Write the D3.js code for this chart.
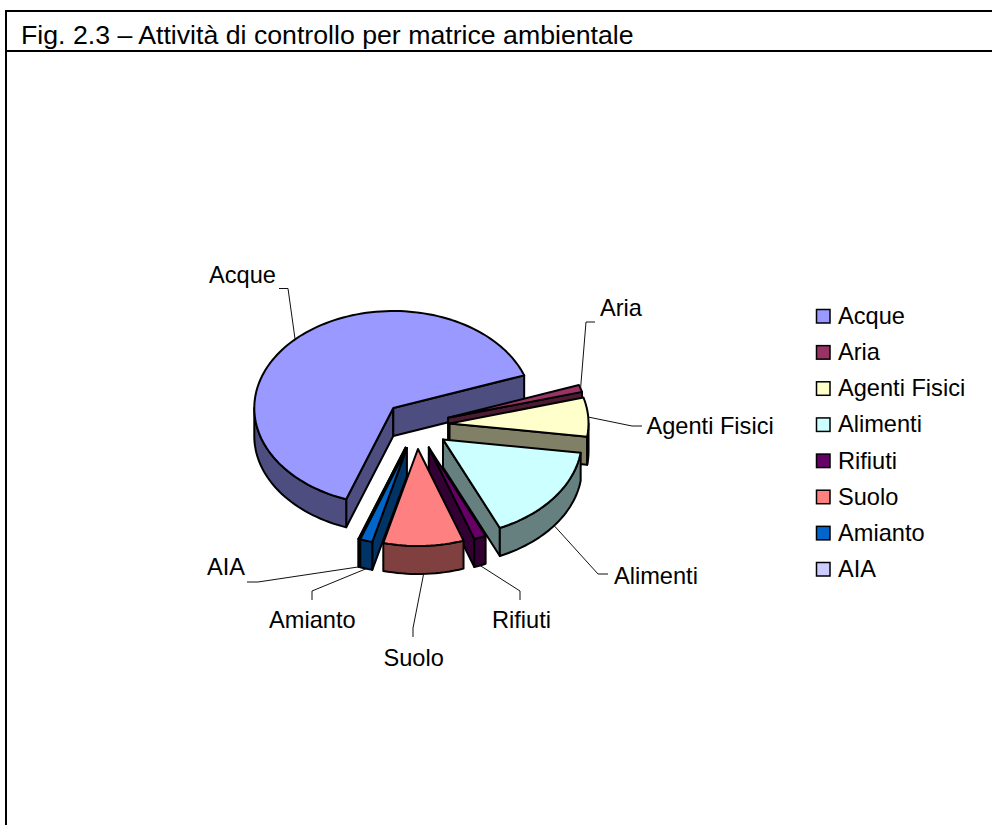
<!DOCTYPE html>
<html lang="en">
<head>
    <meta charset="UTF-8">
    <title>Fig. 2.3</title>
</head>

<style>

html, body {
    margin: 0;
    padding: 0;
    background: #fff;
    overflow: hidden;
}

svg {
    display: block;
}

text {
    font-family: 'Liberation Sans', Arial, sans-serif;
    fill: #000;
}

.leader {
    fill: none;
    stroke: #111;
    stroke-width: 1;
}

.face {
    stroke: #000;
    stroke-width: 2;
    stroke-linejoin: round;
}

</style>

<svg height="825" width="992"></svg>

<script src="https://d3js.org/d3.v7.min.js"></script>

<script>

    var titleText = "Fig. 2.3 \u2013 Attivit\u00e0 di controllo per matrice ambientale";

    var categories = ["Acque", "Aria", "Agenti Fisici", "Alimenti", "Rifiuti", "Suolo", "Amianto", "AIA"];
    var shares = [64.06, 1.17, 6.5, 16.1, 1.39, 9.33, 1.44, 0.05];
    var colors = ["#9999ff", "#993366", "#ffffcc", "#ccffff", "#660066", "#ff8080", "#0066cc", "#ccccff"];

    // where each data label sits, and the elbow of its leader line
    var labelSpots = [
        {x: 209, y: 283, elbow: [[288, 288.5], [279, 288.5]]},
        {x: 600, y: 316, elbow: [[586, 322], [595, 322]]},
        {x: 646.5, y: 434, elbow: [[632, 426], [642, 426]]},
        {x: 614, y: 583.5, elbow: [[598, 574], [608, 574]]},
        {x: 492, y: 628, elbow: [[520, 591], [520, 600]]},
        {x: 383.5, y: 666, elbow: [[413, 628], [413, 637]]},
        {x: 269, y: 628, elbow: [[312, 591], [312, 600]]},
        {x: 207, y: 575, elbow: [[258, 582], [247, 582]]}
    ];

    var svg = d3.select("svg");

    // frame: open on the right and at the bottom
    svg.append("path")
        .attr("d", "M992,11H6V825")
        .attr("fill", "none")
        .attr("stroke", "#000")
        .attr("stroke-width", 2);

    svg.append("line")
        .attr("x1", 6).attr("x2", 992)
        .attr("y1", 51).attr("y2", 51)
        .attr("stroke", "#000")
        .attr("stroke-width", 2);

    svg.append("text")
        .attr("x", 21)
        .attr("y", 44)
        .attr("font-size", 26.7)
        .text(titleText);

    // pie geometry
    var center = {x: 416.6, y: 425};
    var radiusX = 139, radiusY = 97;
    var depth = 28;
    var explodeX = 33, explodeY = 24;
    var firstAngle = 199.8 * Math.PI / 180;

    var pie = d3.pie()
        .sort(null)
        .startAngle(firstAngle)
        .endAngle(firstAngle + 2 * Math.PI);

    var slices = pie(shares).map(function(d, i) {
        var mid = (d.startAngle + d.endAngle) / 2;
        return {
            index: i,
            a0: d.startAngle,
            a1: d.endAngle,
            mid: mid,
            cx: center.x + explodeX * Math.sin(mid),
            cy: center.y - explodeY * Math.cos(mid)
        };
    });

    var rim = function(s, angle, drop) {
        return [
            s.cx + radiusX * Math.sin(angle),
            s.cy - radiusY * Math.cos(angle) + (drop || 0)
        ];
    };

    var arcAngles = function(from, to) {
        var steps = Math.max(2, Math.ceil((to - from) / (2 * Math.PI / 180)));
        return d3.range(steps + 1).map(function(k) {
            return from + (to - from) * k / steps;
        });
    };

    var line = d3.line();

    var topFace = function(s) {
        var pts = arcAngles(s.a0, s.a1).map(function(a) { return rim(s, a); });
        pts.unshift([s.cx, s.cy]);
        return line(pts) + "Z";
    };

    var cutWall = function(s, a) {
        var outer = rim(s, a), outerLow = rim(s, a, depth);
        return line([[s.cx, s.cy], outer, outerLow, [s.cx, s.cy + depth]]) + "Z";
    };

    // front part of the rim, that is the angles between 90 and 270 degrees
    var rimWall = function(s) {
        var low = Math.PI / 2, high = 3 * Math.PI / 2, out = null;
        [-2, 0, 2].forEach(function(turn) {
            var from = Math.max(s.a0, low + turn * Math.PI);
            var to = Math.min(s.a1, high + turn * Math.PI);
            if (to > from) {
                var angles = arcAngles(from, to);
                var upper = angles.map(function(a) { return rim(s, a); });
                var lower = angles.reverse().map(function(a) { return rim(s, a, depth); });
                out = line(upper.concat(lower)) + "Z";
            }
        });
        return out;
    };

    var sideColor = function(c) {
        var rgb = d3.rgb(c);
        return d3.rgb(rgb.r / 2, rgb.g / 2, rgb.b / 2).formatHex();
    };

    // paint from the back of the picture to the front
    var paintOrder = slices.slice().sort(function(a, b) { return a.cy - b.cy; });

    var sliceGroups = svg.selectAll(".slice")
        .data(paintOrder)
        .enter()
        .append("g")
        .attr("class", "slice");

    sliceGroups.each(function(s) {
        var g = d3.select(this);
        var side = sideColor(colors[s.index]);
        var walls = [];
        if (Math.sin(s.a0) < 0) walls.push(cutWall(s, s.a0));
        if (Math.sin(s.a1) > 0) walls.push(cutWall(s, s.a1));
        var front = rimWall(s);
        if (front) walls.push(front);

        walls.forEach(function(d) {
            g.append("path").attr("class", "face").attr("fill", side).attr("d", d);
        });
        g.append("path").attr("class", "face").attr("fill", colors[s.index]).attr("d", topFace(s));
    });

    // leader lines start on the rim at the middle of the slice
    svg.selectAll(".leader")
        .data(slices)
        .enter()
        .append("path")
        .attr("class", "leader")
        .attr("d", function(s) {
            var front = Math.cos(s.mid) < 0;
            var start = rim(s, s.mid, front ? depth : 0);
            return line([start].concat(labelSpots[s.index].elbow));
        });

    svg.selectAll(".data-label")
        .data(slices)
        .enter()
        .append("text")
        .attr("class", "data-label")
        .attr("x", function(s) { return labelSpots[s.index].x; })
        .attr("y", function(s) { return labelSpots[s.index].y; })
        .attr("font-size", 23.6)
        .text(function(s) { return categories[s.index]; });

    // legend
    var legendScale = d3.scalePoint()
        .domain(categories)
        .range([316, 569]);

    var legendRows = svg.selectAll(".legend-row")
        .data(categories)
        .enter()
        .append("g")
        .attr("class", "legend-row")
        .attr("transform", function(d) { return "translate(816," + legendScale(d) + ")"; });

    legendRows.append("rect")
        .attr("x", 0.5)
        .attr("y", -6.5)
        .attr("width", 13.5)
        .attr("height", 13.5)
        .attr("fill", function(d, i) { return colors[i]; })
        .attr("stroke", "#000")
        .attr("stroke-width", 1.5);

    legendRows.append("text")
        .attr("x", 22)
        .attr("y", 8)
        .attr("font-size", 23.6)
        .text(function(d) { return d; });

</script>
</html>
